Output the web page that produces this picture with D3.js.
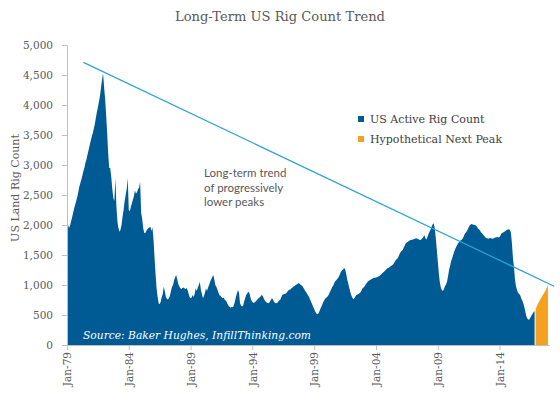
<!DOCTYPE html>
<html>
<head>
<meta charset="utf-8">
<script src="https://cdn.jsdelivr.net/npm/d3@7"></script>
<style>
  html, body { margin: 0; padding: 0; background: #fff; }
  svg { display: block; }
</style>
</head>
<body>
<svg id="chart" width="560" height="395"></svg>
<script>
// ---------------- data ----------------
const chartTitle = "Long-Term US Rig Count Trend";
const yAxisTitle = "US Land Rig Count";
const seriesNames = ["US Active Rig Count", "Hypothetical Next Peak"];
const sourceNote = "Source: Baker Hughes, InfillThinking.com";
const trendNote = ["Long-term trend", "of progressively", "lower peaks"];

// monthly US active rig count, starting Jan 1979
const rigStart = "1979-01";
const rigCount = [
  2110, 2000, 1950, 1990, 2060, 2130, 2200, 2280, 2340, 2400, 2470, 2550, // 1979
  2640, 2700, 2760, 2830, 2900, 2960, 3040, 3100, 3180, 3250, 3330, 3400, // 1980
  3470, 3530, 3600, 3680, 3780, 3880, 3960, 4050, 4150, 4280, 4420, 4530, // 1981
  4300, 4100, 3850, 3550, 3200, 2950, 2950, 2800, 2600, 2450, 2400, 2780, // 1982
  2300, 2050, 1950, 1889, 1920, 2000, 2140, 2250, 2400, 2500, 2600, 2778, // 1983
  2250, 2230, 2300, 2360, 2420, 2480, 2580, 2520, 2550, 2600, 2620, 2722, // 1984
  2200, 2100, 1950, 1870, 1861, 1900, 1930, 1940, 1960, 1972, 1900, 1960, // 1985
  1750, 1450, 1194,  950,  800,  694,  680,  720,  800,  850,  972,  900, // 1986
   800,  770,  760,  778,  820,  900,  972, 1000, 1080, 1130, 1167, 1100, // 1987
  1020,  980,  950,  930,  950,  960,  944,  930,  950,  920,  860,  800, // 1988
   778,  790,  833,  800,  850,  944,  900,  960, 1000, 1056,  917,  850, // 1989
   778,  820,  870,  944,  900,  960, 1000, 1056, 1090, 1130, 1167, 1100, // 1990
  1000,  972,  930,  880,  833,  820,  800,  778,  790,  760,  740,  722, // 1991
   680,  650,  639,  620,  639,  630,  660,  720,  800,  860,  917,  870, // 1992
   694,  660,  640,  660,  720,  780,  833,  860,  889,  870,  800,  740, // 1993
   722,  700,  710,  722,  740,  760,  778,  790,  810,  833,  820,  780, // 1994
   740,  722,  710,  700,  694,  720,  750,  778,  760,  720,  700,  694, // 1995
   700,  720,  740,  750,  790,  833,  840,  850,  855,  861,  890,  910, // 1996
   920,  930,  944,  960,  975,  985, 1000, 1010, 1020, 1028, 1020, 1000, // 1997
   990,  972,  940,  910,  889,  860,  830,  806,  760,  720,  680,  639, // 1998
   600,  560,  530,  511,  520,  560,  600,  639,  680,  720,  750,  778, // 1999
   790,  810,  833,  870,  910,  944,  980, 1010, 1056, 1070, 1090, 1111, // 2000
  1140, 1180, 1222, 1240, 1260, 1278, 1270, 1194, 1100, 1028,  960,  889, // 2001
   830,  790,  761,  780,  810,  833,  840,  850,  861,  880,  910,  944, // 2002
   960,  980, 1010, 1030, 1056, 1070, 1080, 1090, 1100, 1111, 1115, 1120, // 2003
  1125, 1130, 1139, 1150, 1160, 1175, 1194, 1210, 1225, 1240, 1260, 1278, // 2004
  1285, 1295, 1310, 1320, 1333, 1350, 1380, 1410, 1430, 1444, 1480, 1520, // 2005
  1550, 1570, 1583, 1620, 1660, 1694, 1710, 1720, 1735, 1745, 1750, 1755, // 2006
  1760, 1765, 1770, 1778, 1770, 1765, 1755, 1750, 1760, 1780, 1800, 1833, // 2007
  1780, 1760, 1800, 1850, 1889, 1920, 1972, 2010, 2030, 1950, 1800, 1600, // 2008
  1400, 1194, 1050,  960,  917,  900,  930,  980, 1010, 1056, 1150, 1250, // 2009
  1320, 1400, 1444, 1500, 1560, 1600, 1639, 1670, 1700, 1720, 1740, 1750, // 2010
  1770, 1800, 1840, 1870, 1889, 1920, 1960, 1990, 2010, 2017, 2010, 2005, // 2011
  2000, 1990, 1970, 1944, 1930, 1910, 1880, 1861, 1840, 1820, 1800, 1785, // 2012
  1778, 1770, 1778, 1780, 1778, 1770, 1775, 1785, 1790, 1794, 1800, 1790, // 2013
  1800, 1830, 1861, 1870, 1880, 1890, 1905, 1917, 1925, 1930, 1917, 1880, // 2014
  1694, 1450, 1306, 1100,  980,  917,  870,  850,  833,  780,  740,  700, // 2015
   639,  560,  480,  440,  420,  430,  460,  490,  520,  545,  565        // 2016
];

// hypothetical next peak, monthly from Dec 2016
const hypoStart = "2016-12";
const hypoCount = [583, 640, 680, 710, 740, 770, 800, 833, 860, 890, 920, 960, 1000];

// long-term trend line end points
const trendDates = ["1980-05", "2018-06"];
const trendValues = [4710, 980];

const xTickLabels = ["Jan-79","Jan-84","Jan-89","Jan-94","Jan-99","Jan-04","Jan-09","Jan-14"];
const yTicks = [0,500,1000,1500,2000,2500,3000,3500,4000,4500,5000];
const xDomain = ["1979-01", "2018-01"];

// ---------------- chart ----------------
const parseMonth = d3.timeParse("%Y-%m");
const parseTick = d3.timeParse("%b-%y");

function monthly(start, values) {
  const s = parseMonth(start);
  return values.map((v, i) => ({ date: d3.timeMonth.offset(s, i), value: v }));
}
const rigData = monthly(rigStart, rigCount);
const hypoData = monthly(hypoStart, hypoCount);
const trendData = trendDates.map((d, i) => ({ date: parseMonth(d), value: trendValues[i] }));

const blue = "#005A94";
const orange = "#F5A01F";
const trendColor = "#2CA3D6";
const textGray = "#595959";
const axisGray = "#BFBFBF";

const svg = d3.select("#chart");
const x = d3.scaleTime().domain(xDomain.map(parseMonth)).range([67, 549]);
const y = d3.scaleLinear().domain([0, 5000]).range([345, 45]);

// title
svg.append("text")
  .attr("x", 280).attr("y", 21)
  .attr("text-anchor", "middle")
  .attr("font-family", "DejaVu Serif")
  .attr("font-size", 13.5)
  .attr("fill", textGray)
  .attr("textLength", 210).attr("lengthAdjust", "spacingAndGlyphs")
  .text(chartTitle);

// areas
const area = d3.area().x(d => x(d.date)).y0(y(0)).y1(d => y(d.value));
svg.append("path").datum(rigData).attr("d", area).attr("fill", blue);
svg.append("path").datum(hypoData).attr("d", area).attr("fill", orange);

// source text
svg.append("text")
  .attr("x", 83).attr("y", 339)
  .attr("font-family", "DejaVu Serif")
  .attr("font-style", "italic")
  .attr("font-size", 11.5)
  .attr("fill", "#ffffff")
  .attr("textLength", 228).attr("lengthAdjust", "spacingAndGlyphs")
  .text(sourceNote);

// trend line
svg.append("path").datum(trendData)
  .attr("d", d3.line().x(d => x(d.date)).y(d => y(d.value)))
  .attr("fill", "none").attr("stroke", trendColor).attr("stroke-width", 1.2);

// y axis
const yAxis = svg.append("g").attr("transform", "translate(67,0)")
  .call(d3.axisLeft(y).tickValues(yTicks).tickFormat(d3.format(",")).tickSize(5).tickPadding(9));
yAxis.select(".domain").attr("stroke", axisGray);
yAxis.selectAll(".tick line").attr("stroke", axisGray);
yAxis.selectAll(".tick text")
  .attr("font-family", "DejaVu Serif").attr("font-size", 10.5).attr("fill", textGray);

// x axis
const xAxis = svg.append("g").attr("transform", "translate(0,345)")
  .call(d3.axisBottom(x).tickValues(xTickLabels.map(parseTick))
    .tickFormat((d, i) => xTickLabels[i]).tickSize(5).tickSizeOuter(0));
xAxis.select(".domain").attr("stroke", axisGray);
xAxis.selectAll(".tick line").attr("stroke", axisGray);
xAxis.selectAll(".tick text")
  .attr("font-family", "DejaVu Serif").attr("font-size", 10.5).attr("fill", textGray)
  .attr("text-anchor", "end")
  .attr("transform", "rotate(-90)")
  .attr("x", -7).attr("y", 0).attr("dy", "0.35em");

// y axis title
svg.append("text")
  .attr("transform", "translate(19,188) rotate(-90)")
  .attr("text-anchor", "middle")
  .attr("font-family", "DejaVu Serif").attr("font-size", 11)
  .attr("fill", textGray)
  .text(yAxisTitle);

// legend
const legend = svg.append("g");
[blue, orange].forEach((c, i) => {
  legend.append("rect").attr("x", 358).attr("y", 116 + i * 20).attr("width", 6).attr("height", 6).attr("fill", c);
  legend.append("text").attr("x", 370).attr("y", 123 + i * 20)
    .attr("font-family", "DejaVu Serif").attr("font-size", 11)
    .attr("fill", "#404040")
    .text(seriesNames[i]);
});

// annotation
trendNote.forEach((t, i) => {
  svg.append("text").attr("x", 204).attr("y", 177 + i * 14.5)
    .attr("font-family", "Lato").attr("font-size", 11.5)
    .attr("fill", textGray)
    .text(t);
});
</script>
</body>
</html>
